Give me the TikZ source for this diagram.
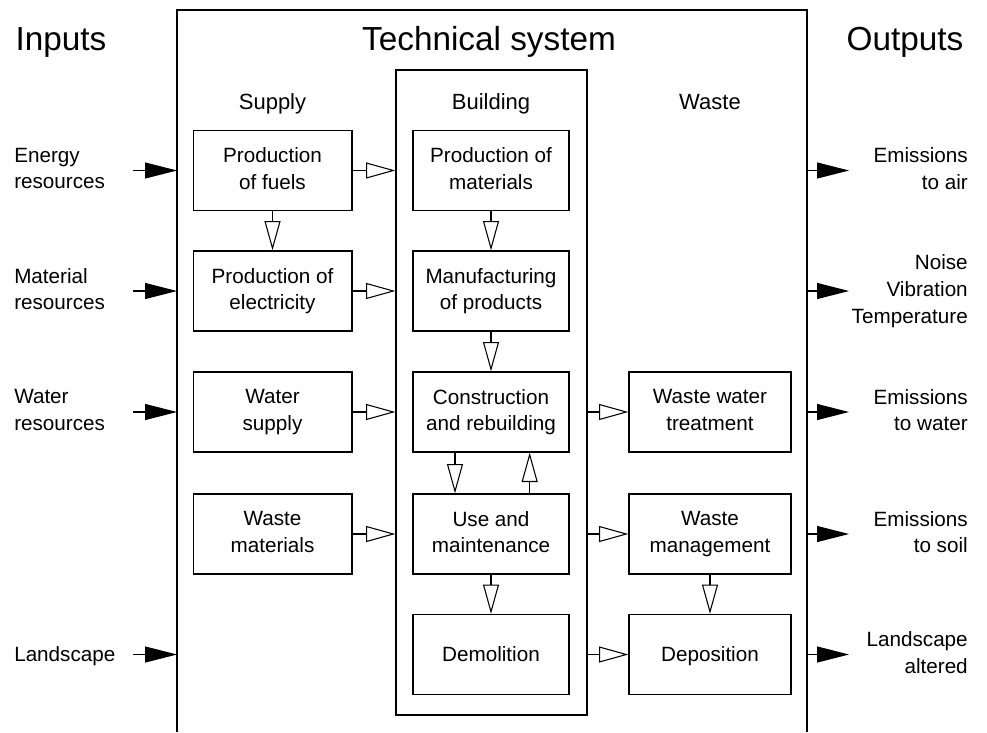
\documentclass[tikz,border=0pt]{standalone}
\usepackage{fontspec}
\setmainfont{Liberation Sans}
\usetikzlibrary{arrows.meta}
\usetikzlibrary{calc}
\newcommand\bstrut{\rule[-3pt]{0pt}{17.2pt}}
\tikzset{
    box/.style={draw, line width=1pt, align=center, inner sep=0pt,
        minimum height=60pt, font=\fontsize{15.5}{20}\selectfont,
        execute at begin node=\bstrut, execute at end node=\bstrut},
    lbl/.style={align=#1, inner sep=0pt, font=\fontsize{15.5}{20}\selectfont,
        execute at begin node=\bstrut, execute at end node=\bstrut},
    head/.style={inner sep=0pt, anchor=base, font=\fontsize{16.5}{20}\selectfont},
    big/.style={inner sep=0pt, anchor=base, font=\fontsize{25}{30}\selectfont},
    flow/.style={-{Triangle[open, length=22pt, width=12pt, line width=0.8pt]}, line width=0.8pt},
    io/.style={-{Triangle[length=24pt, width=12pt]}, line width=0.8pt},
}

\begin{document}
\begin{tikzpicture}[x=0.75pt, y=-0.75pt]

    \useasboundingbox (0,0) rectangle (987,732);

    \def\cS{272.5} \def\cB{491} \def\cW{710}
    \def\rA{170.5} \def\rB{291} \def\rC{412} \def\rD{534} \def\rE{654.5}

    % frame of the technical system, open at the bottom
    \coordinate (tsNW) at (177,10);
    \coordinate (tsNE) at (807,10);
    \draw[line width=1pt] (177,732) -- (tsNW) -- (tsNE) -- (807,732);

    \node[big] (tIn)  at (61,50)  {Inputs};
    \node[big] (tSys) at (489,50) {Technical system};
    \node[big] (tOut) at (905,50) {Outputs};

    \node[head] (hS) at (\cS,109) {Supply};
    \node[head] (hB) at (\cB,109) {Building};
    \node[head] (hW) at (\cW,109) {Waste};

    \node[draw, line width=1pt, minimum width=143.25pt, minimum height=483.75pt]
        (bldg) at (491.5,392.5) {};

    % supply
    \node[box, minimum width=119pt] (fuel)  at (\cS,\rA) {Production\\of fuels};
    \node[box, minimum width=119pt] (elec)  at (\cS,\rB) {Production of\\electricity};
    \node[box, minimum width=119pt] (water) at (\cS,\rC) {Water\\supply};
    \node[box, minimum width=119pt] (wmat)  at (\cS,\rD) {Waste\\materials};

    % building
    \node[box, minimum width=117pt] (mat)   at (\cB,\rA) {Production of\\materials};
    \node[box, minimum width=117pt] (manu)  at (\cB,\rB) {Manufacturing\\of products};
    \node[box, minimum width=117pt] (cons)  at (\cB,\rC) {Construction\\and rebuilding};
    \node[box, minimum width=117pt] (use)   at (\cB,\rD) {Use and\\maintenance};
    \node[box, minimum width=117pt] (demo)  at (\cB,\rE) {Demolition};

    % waste
    \node[box, minimum width=121.5pt] (wwt)  at (\cW,\rC) {Waste water\\treatment};
    \node[box, minimum width=121.5pt] (wman) at (\cW,\rD) {Waste\\management};
    \node[box, minimum width=121.5pt] (depo) at (\cW,\rE) {Deposition};

    \foreach \I in {fuel,elec,water,wmat}
        \draw[flow] (\I.east) -- (\I.east -| bldg.west);
    \foreach \I in {wwt,wman,depo}
        \draw[flow] (\I.west -| bldg.east) -- (\I.west);

    \draw[flow] (fuel) -- (elec);
    \draw[flow] (mat) -- (manu);
    \draw[flow] (manu) -- (cons);
    \draw[flow] ([xshift=-27pt]cons.south) -- ([xshift=-27pt]use.north);
    \draw[flow] ([xshift=29pt]use.north) -- ([xshift=29pt]cons.south);
    \draw[flow] (use) -- (demo);
    \draw[flow] (wman) -- (depo);

    % inputs
    \foreach \y/\n/\t in {\rA/1/{Energy\\resources}, \rB/2/{Material\\resources},
                          \rC/3/{Water\\resources}, \rE/4/{Landscape}}{
        \node[lbl=left, anchor=west] (inL\n) at (14,\y) {\t};
        \coordinate (in\n) at (133,\y);
        \draw[io] (in\n) -- (in\n -| tsNW);
    }

    % outputs
    \foreach \y/\n/\t in {\rA/1/{Emissions\\to air}, \rB/2/{Noise\\Vibration\\Temperature},
                          \rC/3/{Emissions\\to water}, \rD/4/{Emissions\\to soil},
                          \rE/5/{Landscape\\altered}}{
        \node[lbl=right, anchor=east] (outL\n) at (968,\y) {\t};
        \coordinate (out\n) at (849,\y);
        \draw[io] (out\n -| tsNE) -- (out\n);
    }

\end{tikzpicture}
\end{document}
